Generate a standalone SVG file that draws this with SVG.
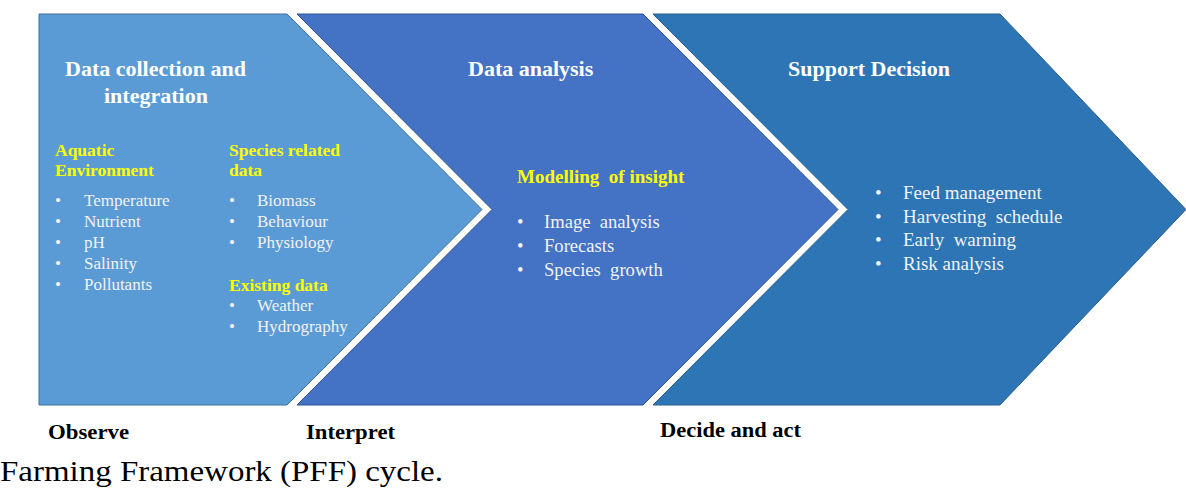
<svg xmlns="http://www.w3.org/2000/svg" width="1186" height="492" viewBox="0 0 1186 492">
<style>
.t{font-family:"Liberation Serif","Times New Roman",serif;}
.title{font-weight:bold;font-size:22px;fill:#FFFFFF;}
.head{font-weight:bold;font-size:17.5px;fill:#FFFF00;}
.body{font-size:17px;fill:#F2F2F2;}
.body2{font-size:18.6px;fill:#F2F2F2;}
.body3{font-size:19px;fill:#F2F2F2;}
.lbl{font-weight:bold;font-size:20px;fill:#000;}
.cap{font-size:30px;fill:#000;}
</style>
<rect width="1186" height="492" fill="#FFFFFF"/>
<g id="node-collect">
<polygon points="39,14 287,14 482,209.5 287,405 39,405" fill="#5B9BD5" stroke="#41719C" stroke-width="1"/>
<text class="t title" x="65" y="76">Data collection and</text>
<text class="t title" x="104" y="103">integration</text>
<text class="t head" x="55" y="156">Aquatic</text>
<text class="t head" x="55" y="176">Environment</text>
<g class="t body">
<text x="55" y="206">•</text><text x="84" y="206">Temperature</text>
<text x="55" y="227">•</text><text x="84" y="227">Nutrient</text>
<text x="55" y="248">•</text><text x="84" y="248">pH</text>
<text x="55" y="269">•</text><text x="84" y="269">Salinity</text>
<text x="55" y="290">•</text><text x="84" y="290">Pollutants</text>
</g>
<text class="t head" x="229" y="156">Species related</text>
<text class="t head" x="229" y="176">data</text>
<g class="t body">
<text x="229" y="206">•</text><text x="257" y="206">Biomass</text>
<text x="229" y="227">•</text><text x="257" y="227">Behaviour</text>
<text x="229" y="248">•</text><text x="257" y="248">Physiology</text>
</g>
<text class="t head" x="229" y="291">Existing data</text>
<g class="t body">
<text x="229" y="311">•</text><text x="257" y="311">Weather</text>
<text x="229" y="332">•</text><text x="257" y="332">Hydrography</text>
</g>
</g>
<g id="node-analysis">
<polygon points="297,14 643,14 838,209.5 643,405 297,405 492,209.5" fill="#4472C4" stroke="#2F528F" stroke-width="1"/>
<text class="t title" x="468" y="76">Data analysis</text>
<text class="t head" x="517" y="183" style="font-size:19px">Modelling&#160; of insight</text>
<g class="t body2">
<text x="517" y="228">•</text><text x="544" y="228">Image&#160; analysis</text>
<text x="517" y="252">•</text><text x="544" y="252">Forecasts</text>
<text x="517" y="276">•</text><text x="544" y="276">Species&#160; growth</text>
</g>
</g>
<g id="node-decision">
<polygon points="653,14 1000,14 1186,209.5 1000,405 653,405 848,209.5" fill="#2E75B6" stroke="#2A5F8F" stroke-width="1"/>
<text class="t title" x="788" y="76">Support Decision</text>
<g class="t body3">
<text x="875" y="199">•</text><text x="903" y="199">Feed management</text>
<text x="875" y="223">•</text><text x="903" y="223">Harvesting&#160; schedule</text>
<text x="875" y="246">•</text><text x="903" y="246">Early&#160; warning</text>
<text x="875" y="270">•</text><text x="903" y="270">Risk analysis</text>
</g>
</g>
<g id="connectors"></g>
<g id="labels">
<text class="t lbl" x="48" y="439" textLength="81" lengthAdjust="spacingAndGlyphs">Observe</text>
<text class="t lbl" x="306" y="439" textLength="89" lengthAdjust="spacingAndGlyphs">Interpret</text>
<text class="t lbl" x="660" y="437" textLength="141" lengthAdjust="spacingAndGlyphs">Decide and act</text>
<text class="t cap" x="0" y="481" textLength="443" lengthAdjust="spacingAndGlyphs">Farming Framework (PFF) cycle.</text>
</g>
</svg>
